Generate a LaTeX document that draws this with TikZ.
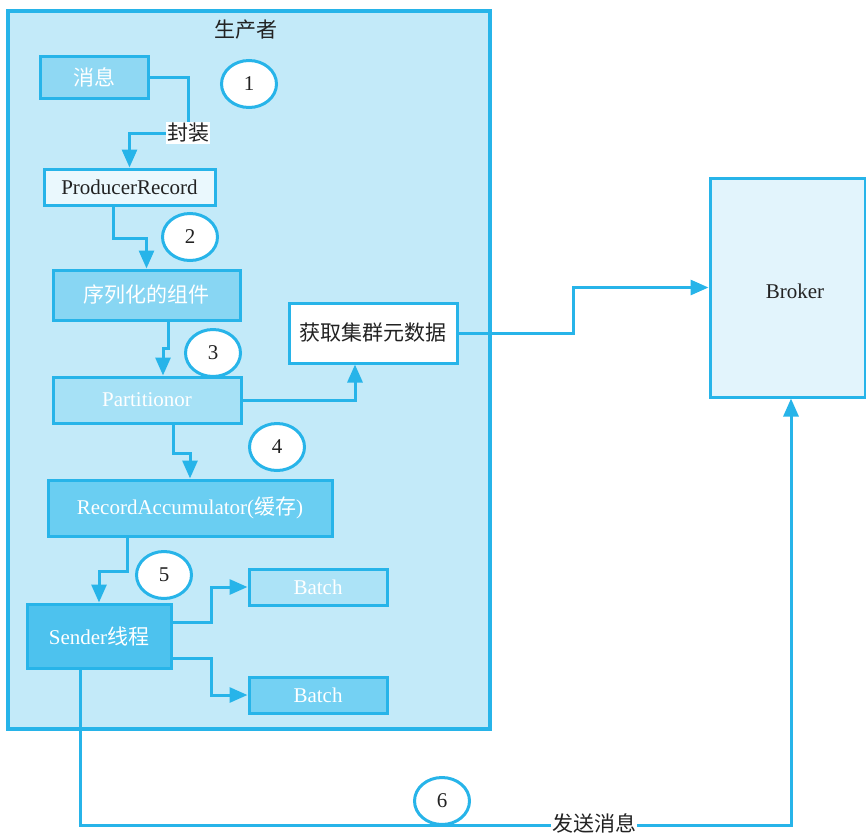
\documentclass[tikz,border=0pt]{standalone}
\usepackage{fontspec}
\setmainfont{Liberation Serif}
\newfontfamily\cjk{Noto Sans CJK SC}
\usetikzlibrary{arrows.meta,shapes.geometric}
\definecolor{ln}{HTML}{27B4E9}
\definecolor{prodfill}{HTML}{C3EAF9}
\definecolor{msgfill}{HTML}{8FD8F3}
\definecolor{prfill}{HTML}{EAF8FD}
\definecolor{serfill}{HTML}{88D6F3}
\definecolor{partfill}{HTML}{A6E1F6}
\definecolor{rafill}{HTML}{6ACEF2}
\definecolor{sendfill}{HTML}{4DC2EE}
\definecolor{bafill}{HTML}{ACE3F7}
\definecolor{bbfill}{HTML}{74D1F3}
\definecolor{brokfill}{HTML}{E2F4FC}
\definecolor{txt}{HTML}{222222}
\tikzset{
  box/.style={draw=ln, line width=3pt, inner sep=0pt, font=\fontsize{21}{25}\selectfont},
  wtxt/.style={text=white},
  dtxt/.style={text=txt},
  num/.style={draw=ln, line width=3pt, fill=white, ellipse, minimum width=55pt, minimum height=47pt, inner sep=0pt, text=txt, font=\fontsize{21}{25}\selectfont},
  arr/.style={draw=ln, line width=3pt, -{Triangle[length=18pt,width=15pt]}},
  lbl/.style={fill=white, inner sep=1pt, text=txt, font=\fontsize{21}{25}\selectfont\cjk},
}
\begin{document}
\begin{tikzpicture}[x=1pt,y=-1pt]
\useasboundingbox (0,0) rectangle (866,838);
% producer container
\node[draw=ln, line width=3.2pt, fill=prodfill, minimum width=482pt, minimum height=718pt, inner sep=0pt] (prod) at (249,370) {};
\node[text=txt, font=\fontsize{21}{25}\selectfont\cjk] (title) at (246,30) {生产者};
% boxes
\node[box, fill=msgfill, wtxt, minimum width=108pt, minimum height=42pt] (msg) at (94,77) {\cjk 消息};
\node[box, fill=prfill, dtxt, minimum width=171pt, minimum height=36pt] (pr) at (129.5,187) {ProducerRecord};
\node[box, fill=serfill, wtxt, minimum width=187pt, minimum height=50pt] (ser) at (146.5,295) {\cjk 序列化的组件};
\node[box, fill=white, dtxt, minimum width=168pt, minimum height=60pt] (meta) at (373,333) {\cjk 获取集群元数据};
\node[box, fill=partfill, wtxt, minimum width=188pt, minimum height=46pt] (part) at (147,400) {Partitionor};
\node[box, fill=rafill, wtxt, minimum width=284pt, minimum height=56pt] (ra) at (190,508) {RecordAccumulator({\cjk 缓存})};
\node[box, fill=sendfill, wtxt, minimum width=144pt, minimum height=64pt] (sender) at (99,636) {Sender{\cjk 线程}};
\node[box, fill=bafill, wtxt, minimum width=138pt, minimum height=36pt] (b1) at (318,587) {Batch};
\node[box, fill=bbfill, wtxt, minimum width=138pt, minimum height=36pt] (b2) at (318,695) {Batch};
\node[box, fill=brokfill, dtxt, minimum width=155pt, minimum height=219pt] (broker) at (787.5,287.5) {};
\node[dtxt, font=\fontsize{21}{25}\selectfont] (brokertxt) at (795,291) {Broker};
% connectors
\draw[arr] (msg.east) -| (188,133) -| (pr.north);
\node[lbl] (fz) at (188,133) {封装};
\draw[arr] ([xshift=-16.5pt]pr.south) -- ++(0,32) -| (ser.north);
\draw[arr] ([xshift=21.5pt]ser.south) -- ++(0,27) -| ([xshift=16pt]part.north);
\draw[arr] (part.east) -| ([xshift=-18pt]meta.south);
\draw[arr] (meta.east) -- ++(115,0) |- (broker.west);
\draw[arr] ([xshift=26pt]part.south) -- ++(0,29) -| (ra.north);
\draw[arr] ([xshift=-63pt]ra.south) -- ++(0,34) -| (sender.north);
\draw[arr] ([yshift=14pt]sender.east) -- ++(39,0) |- (b1.west);
\draw[arr] ([yshift=-22pt]sender.east) -- ++(39,0) |- (b2.west);
\draw[arr] ([xshift=-19pt]sender.south) -- ++(0,156) -| ([xshift=3.5pt]broker.south);
% numbered circles
\node[num] (n1) at (249,84) {1};
\node[num] (n2) at (190,237) {2};
\node[num] (n3) at (213,353) {3};
\node[num] (n4) at (277,447) {4};
\node[num] (n5) at (164,575) {5};
\node[num] (n6) at (442,801) {6};
\node[lbl] (fs) at (594,823) {发送消息};
\end{tikzpicture}
\end{document}
